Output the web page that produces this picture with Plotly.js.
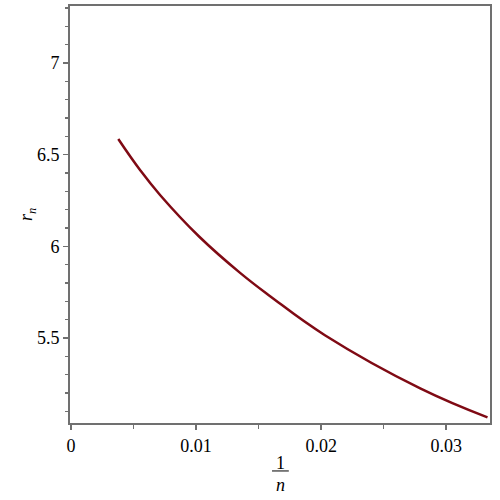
<!DOCTYPE html>
<html>
<head>
<meta charset="utf-8">
<script src="https://cdn.plot.ly/plotly-3.0.1.min.js"></script>
<style>
  body { margin: 0; background: #fff; }
  #plot { width: 500px; height: 500px; }
</style>
</head>
<body>
<div id="plot"></div>
<script>
// r_n against 1/n
var inv_n = [0.00378, 0.00552, 0.00712, 0.01026, 0.01352, 0.01592, 0.02030, 0.02792, 0.0333];
var r_n = [6.585, 6.416, 6.280, 6.052, 5.855, 5.728, 5.515, 5.225, 5.067];

var xTicks = [0, 0.01, 0.02, 0.03];
var xLabels = ["0", "0.01", "0.02", "0.03"];
var yTicks = [5.5, 6, 6.5, 7];
var yLabels = ["5.5", "6", "6.5", "7"];

var trace = {
  x: inv_n,
  y: r_n,
  type: "scatter",
  mode: "lines",
  line: { color: "#7f0a14", width: 2.5, shape: "spline", smoothing: 1.2 },
  hoverinfo: "skip"
};

var axisFont = { family: "Times New Roman, Liberation Serif, DejaVu Serif, serif", size: 18, color: "#000" };

var layout = {
  width: 500,
  height: 500,
  margin: { l: 70, r: 10, t: 6, b: 77 },
  paper_bgcolor: "#fff",
  plot_bgcolor: "#fff",
  showlegend: false,
  font: axisFont,
  xaxis: {
    range: [-0.00008, 0.0335],
    tickvals: xTicks,
    ticktext: xLabels,
    ticks: "outside",
    ticklen: 5,
    tickwidth: 1.5,
    tickcolor: "#707070",
    showline: true,
    linecolor: "#707070",
    linewidth: 2,
    mirror: true,
    showgrid: false,
    zeroline: false,
    tickfont: axisFont,
    minor: { dtick: 0.005, tick0: 0, ticks: "outside", ticklen: 4, tickwidth: 1.5, tickcolor: "#707070", showgrid: false }
  },
  yaxis: {
    range: [5.036, 7.311],
    tickvals: yTicks,
    ticktext: yLabels,
    ticks: "outside",
    ticklen: 5,
    tickwidth: 1.5,
    tickcolor: "#707070",
    showline: true,
    linecolor: "#707070",
    linewidth: 2,
    mirror: true,
    showgrid: false,
    zeroline: false,
    tickfont: axisFont,
    minor: { dtick: 0.1, tick0: 5, ticks: "outside", ticklen: 3, tickwidth: 1.5, tickcolor: "#707070", showgrid: false }
  },
  annotations: [
    { text: "1", xref: "paper", yref: "paper", x: 0.5, y: -0.096, xanchor: "center", yanchor: "middle",
      showarrow: false, font: axisFont },
    { text: "<i>n</i>", xref: "paper", yref: "paper", x: 0.5, y: -0.149, xanchor: "center", yanchor: "middle",
      showarrow: false, font: axisFont },
    { text: "<i>r</i><sub><i>n</i></sub>", xref: "paper", yref: "paper", x: -0.1, y: 0.499, xanchor: "center", yanchor: "middle",
      textangle: -90, showarrow: false, font: axisFont }
  ],
  shapes: [
    { type: "line", xref: "paper", yref: "paper", x0: 0.481, x1: 0.521, y0: -0.115, y1: -0.115,
      line: { color: "#000", width: 1 } }
  ]
};

Plotly.newPlot("plot", [trace], layout, { displayModeBar: false, staticPlot: true });
</script>
</body>
</html>
